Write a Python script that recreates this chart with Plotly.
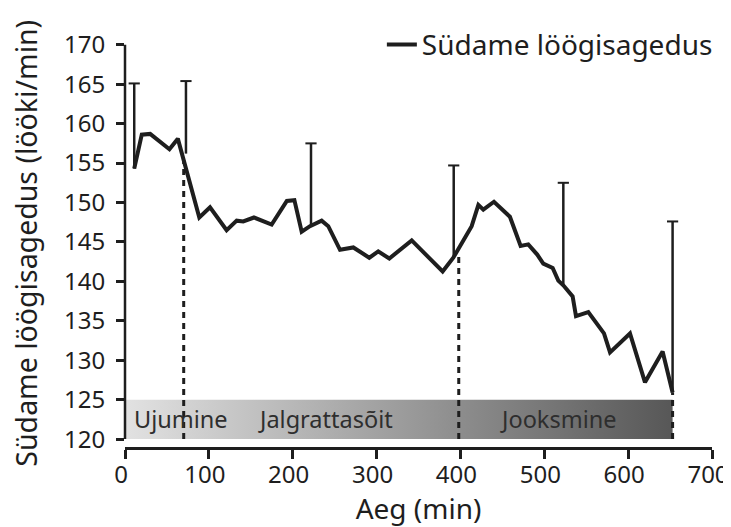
import plotly.graph_objects as go

# heart-rate curve
hr_x = [11, 20, 30, 53, 63, 88.6, 101.4, 121.2, 133.2, 141, 153.8, 174.9, 193, 202,
        210.7, 220.6, 234.5, 242.4, 256.4, 272.3, 291.3, 302, 315.2, 341.9, 378.8,
        391.5, 413.4, 421.4, 427.3, 440, 459, 471.8, 480.9, 491.6, 498.8, 510, 516.7,
        522.7, 533.8, 537.8, 552.5, 571.2, 578.4, 602.2, 620.1, 641.1, 653]
hr_y = [154.3, 158.6, 158.7, 156.75, 158.1, 148.1, 149.4, 146.5, 147.7, 147.6, 148.1,
        147.2, 150.2, 150.3, 146.3, 147.0, 147.7, 147.0, 144.0, 144.3, 143.0, 143.8,
        142.9, 145.2, 141.25, 143.0, 147.0, 149.7, 149.1, 150.1, 148.2, 144.5, 144.7,
        143.4, 142.25, 141.7, 140.1, 139.5, 138.1, 135.6, 136.1, 133.4, 131.0, 133.4,
        127.2, 131.1, 125.9]

# one-sided error bars
err_x = [11, 72.7, 221.8, 392, 522.7, 653]
err_base = [154.3, 156.2, 146.9, 142.9, 139.5, 125.9]
err_top = [165.1, 165.4, 157.5, 154.7, 152.5, 147.6]

# phases
phase_edges = [0, 70, 398, 653]
phase_line_top = [155.4, 143.1, 125.9]
phase_names = ['Ujumine', 'Jalgrattasõit', 'Jooksmine']
phase_label_x = [67, 239, 516]

FONT = 'Noto Sans'
INK = '#1e1e1e'

fig = go.Figure()

# gradient band at the bottom
fig.add_trace(go.Scatter(
    x=[phase_edges[0], phase_edges[-1], phase_edges[-1], phase_edges[0], phase_edges[0]],
    y=[120, 120, 125, 125, 120],
    fill='toself', mode='lines', line=dict(width=0),
    fillgradient=dict(type='horizontal', colorscale=[[0, '#e2e2e2'], [1, '#575757']]),
    showlegend=False, hoverinfo='skip'))

for xe, yt in zip(phase_edges[1:], phase_line_top):
    fig.add_trace(go.Scatter(x=[xe, xe], y=[120, yt], mode='lines',
                             line=dict(color=INK, width=3, dash='6px,5px'),
                             showlegend=False, hoverinfo='skip'))

for name, lx in zip(phase_names, phase_label_x):
    fig.add_annotation(x=lx, y=122.5, text=name, showarrow=False,
                       font=dict(family=FONT, size=23.5, color='#2e2e2e'))

# error bars: stems plus caps on top only
stem_x, stem_y = [], []
for x, b, t in zip(err_x, err_base, err_top):
    stem_x += [x, x, None]
    stem_y += [b, t, None]
fig.add_trace(go.Scatter(x=stem_x, y=stem_y, mode='lines', line=dict(color=INK, width=2.5),
                         showlegend=False, hoverinfo='skip'))
fig.add_trace(go.Scatter(x=err_x, y=err_top, mode='markers',
                         marker=dict(symbol='line-ew', size=8, line=dict(color=INK, width=2)),
                         showlegend=False, hoverinfo='skip'))

fig.add_trace(go.Scatter(x=hr_x, y=hr_y, mode='lines', name='Südame löögisagedus',
                         line=dict(color=INK, width=4)))

# detached y spine
fig.add_shape(type='line', xref='paper', x0=0, x1=0, yref='y', y0=120, y1=170,
              line=dict(color=INK, width=2.5))

# y title placed by hand
fig.add_annotation(text='Südame löögisagedus (lööki/min)', textangle=-90,
                   xref='paper', yref='paper', x=-0.1687, y=0.507,
                   xanchor='center', yanchor='middle', showarrow=False,
                   font=dict(family=FONT, size=28.5, color=INK))

fig.update_layout(
    width=723, height=519,
    margin=dict(l=117, r=19, t=31, b=80),
    plot_bgcolor='white', paper_bgcolor='white',
    font=dict(family=FONT, size=24, color=INK),
    legend=dict(x=1.01, xanchor='right', y=1.06, yanchor='top',
                font=dict(size=28), bgcolor='rgba(0,0,0,0)'),
    xaxis=dict(range=[0, 700], tickvals=[0, 100, 200, 300, 400, 500, 600, 700],
               showline=True, linecolor=INK, linewidth=3, ticks='outside',
               ticklen=9, tickwidth=2.5, tickcolor=INK, showgrid=False, zeroline=False,
               automargin=False, ticklabelstandoff=-5, ticklabelshift=-4,
               title=dict(text='Aeg (min)', font=dict(size=28), standoff=2)),
    yaxis=dict(range=[119, 170.1], tickvals=[120, 125, 130, 135, 140, 145, 150, 155, 160, 165, 170],
               showline=False, ticks='outside', ticklen=8, tickwidth=2.5, tickcolor=INK,
               ticklabelstandoff=6,
               showgrid=False, zeroline=False, automargin=False),
)

fig.write_html('out.html')
